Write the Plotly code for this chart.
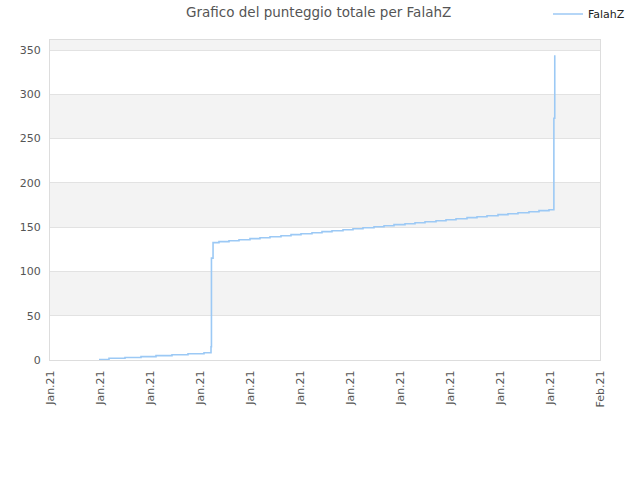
import pandas as pd
import plotly.graph_objects as go

# ---- data ----
series_name = "FalahZ"
start_date = "2021-01-01"
end_date = "2021-02-01"
day_offsets = [
    2.762, 3.325, 4.227, 5.129, 5.975, 6.876, 7.778, 8.680, 9.075, 9.100,
    9.190, 9.525, 10.089, 10.653, 11.273, 11.836, 12.400, 13.020, 13.584, 14.147,
    14.767, 15.331, 15.895, 16.515, 17.078, 17.642, 18.262, 18.826, 19.389, 20.009,
    20.573, 21.137, 21.757, 22.320, 22.884, 23.504, 24.067, 24.631, 25.251, 25.815,
    26.378, 26.998, 27.562, 28.126, 28.400, 28.450,
]
scores = [
    0.5, 1.9, 2.8, 3.8, 4.9, 6.0, 7.1, 8.2, 15, 115,
    132.5, 133.6, 134.7, 135.8, 137.0, 138.0, 139.2, 140.3, 141.5, 142.6,
    143.7, 144.9, 146.0, 147.1, 148.2, 149.4, 150.5, 151.6, 152.8, 153.9,
    155.0, 156.1, 157.3, 158.4, 159.5, 160.7, 161.8, 162.9, 164.1, 165.2,
    166.3, 167.4, 168.6, 169.7, 273, 344,
]
y_ticks = [0, 50, 100, 150, 200, 250, 300, 350]
title_text = "Grafico del punteggio totale per FalahZ"

t0 = pd.Timestamp(start_date)
t1 = pd.Timestamp(end_date)
x = [t0 + pd.to_timedelta(d, unit="D") for d in day_offsets]
n_ticks = 12
tick_vals = [t0 + (t1 - t0) * k / (n_ticks - 1) for k in range(n_ticks)]

y_max = 361.3

fig = go.Figure()
fig.add_trace(go.Scatter(
    x=x, y=scores, mode="lines", name=series_name,
    line=dict(color="#9cc9f5", width=1.6, shape="hv"),
))

# alternating horizontal bands
shapes = []
for i, lo in enumerate(y_ticks):
    if i % 2 == 1:
        shapes.append(dict(type="rect", xref="paper", yref="y", x0=0, x1=1,
                           y0=lo, y1=min(lo + 50, y_max), fillcolor="#f3f3f3",
                           line=dict(width=0), layer="below"))

fig.update_layout(
    width=640, height=480,
    margin=dict(l=50, r=40, t=40, b=120, autoexpand=False),
    paper_bgcolor="white", plot_bgcolor="white",
    font=dict(family="DejaVu Sans", size=11, color="#555555"),
    title=dict(text=title_text, x=186 / 640, xref="container", xanchor="left",
               y=1 - 12 / 480, yref="container", yanchor="middle",
               font=dict(size=13.5, color="#555555")),
    showlegend=True,
    legend=dict(x=548 / 640, xref="container", xanchor="left",
                y=1 - 14 / 480, yref="container", yanchor="middle",
                bgcolor="rgba(0,0,0,0)", font=dict(size=11, color="#222222")),
    shapes=shapes,
)
fig.update_xaxes(
    type="date", range=[t0, t1], tickvals=tick_vals, tickformat="%b.%y",
    tickangle=-90, showgrid=False, zeroline=False, automargin=False,
    showline=True, linecolor="#dddddd", linewidth=1, mirror=True,
    ticks="", ticklabelstandoff=5, tickfont=dict(size=11, color="#555555"),
)
fig.update_yaxes(
    range=[0, y_max], tickvals=y_ticks, showgrid=True, gridcolor="#e2e2e2",
    zeroline=False, showline=True, linecolor="#dddddd", linewidth=1, mirror=True,
    automargin=False, ticks="", ticklabelstandoff=6,
    tickfont=dict(size=11, color="#555555"),
)

fig.write_html("out.html", config={"displayModeBar": False},
               post_script="document.body.style.margin='0';document.body.style.padding='0';")
